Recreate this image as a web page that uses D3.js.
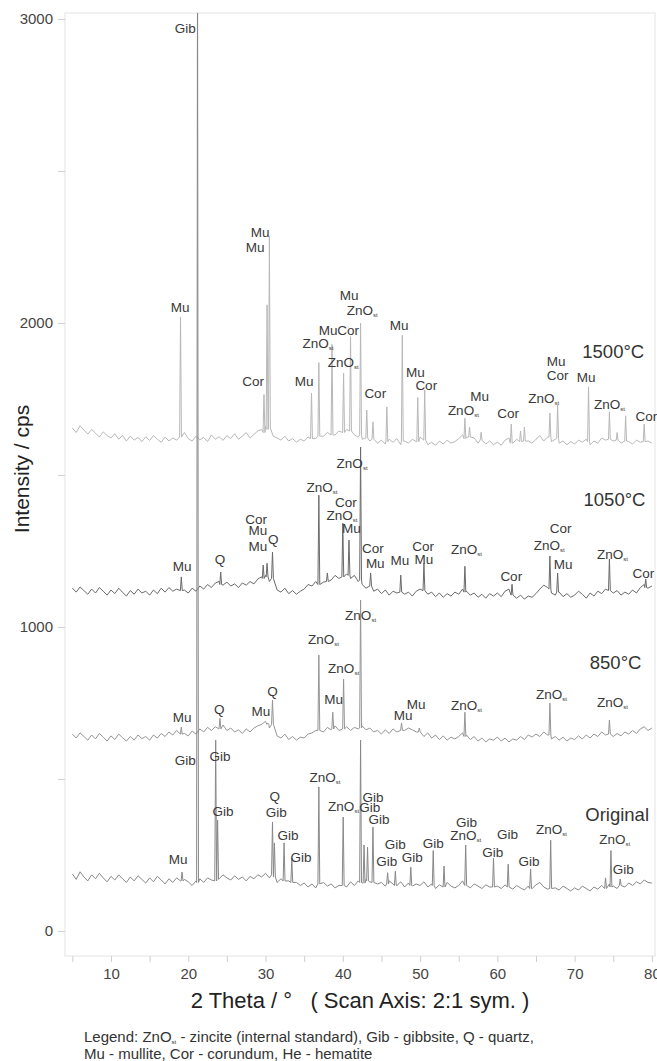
<!DOCTYPE html>
<html>
<head>
<meta charset="utf-8">
<script src="https://cdn.jsdelivr.net/npm/d3@7"></script>
<style>
  body { margin: 0; background: #fff; }
  text { font-family: "Liberation Sans", Arial, sans-serif; }
</style>
</head>
<body>
<div id="chart"></div>
<script>
// baseline samples start at 5 deg, every 0.5 deg up to 80 deg
const thetaStart = 5;
const thetaStep = 0.5;

const base1500 = [
  1655,1640,1662,1648,1635,1650,1638,1625,1642,1630,
  1622,1636,1618,1630,1612,1628,1615,1624,1610,1626,
  1614,1630,1618,1608,1625,1612,1622,1615,1628,1640,
  1620,1612,1628,1616,1624,1610,1632,1618,1626,1614,
  1630,1620,1636,1618,1628,1640,1622,1634,1645,1650,
  1660,1640,1628,1622,1615,1628,1612,1620,1608,1618,
  1612,1625,1630,1620,1635,1628,1640,1625,1632,1645,
  1638,1650,1640,1632,1625,1618,1630,1612,1622,1605,
  1615,1602,1618,1608,1620,1600,1612,1605,1618,1610,
  1625,1612,1600,1608,1598,1612,1602,1615,1605,1610,
  1620,1632,1625,1610,1622,1605,1615,1602,1612,1600,
  1608,1598,1615,1622,1605,1618,1610,1600,1612,1605,
  1618,1630,1612,1625,1610,1618,1605,1612,1600,1610,
  1602,1615,1608,1618,1600,1612,1605,1622,1615,1628,
  1612,1620,1605,1618,1610,1602,1615,1608,1620,1612,
  1605
];
const base1050 = [
  1128,1115,1132,1120,1108,1125,1112,1130,1118,1105,
  1122,1110,1128,1114,1102,1120,1108,1125,1112,1118,
  1105,1122,1110,1128,1115,1130,1118,1125,1140,1122,
  1112,1128,1118,1135,1125,1140,1130,1145,1150,1138,
  1148,1135,1142,1130,1145,1138,1150,1142,1158,1165,
  1170,1150,1130,1122,1115,1128,1110,1120,1108,1118,
  1125,1140,1135,1150,1160,1148,1165,1155,1170,1160,
  1168,1175,1160,1170,1150,1140,1128,1135,1118,1125,
  1110,1122,1105,1118,1112,1125,1108,1115,1102,1118,
  1125,1130,1108,1115,1100,1112,1098,1110,1102,1115,
  1108,1125,1118,1105,1112,1098,1108,1095,1110,1102,
  1112,1100,1118,1125,1108,1095,1105,1092,1102,1098,
  1110,1125,1138,1130,1112,1105,1115,1100,1110,1098,
  1105,1118,1108,1095,1112,1102,1118,1110,1125,1132,
  1112,1120,1105,1115,1108,1122,1112,1130,1140,1128,
  1135
];
const base850 = [
  648,635,652,640,628,645,632,650,638,625,
  642,630,648,636,625,640,628,645,633,640,
  628,645,635,650,640,655,645,660,668,650,
  642,658,648,665,655,670,660,672,665,678,
  660,668,655,662,650,665,655,668,675,680,
  690,668,650,642,635,648,630,640,628,638,
  635,648,652,660,668,655,670,662,675,660,
  668,672,660,670,665,675,662,668,655,660,
  648,662,650,665,655,670,660,668,662,655,
  648,640,652,635,645,630,642,628,638,632,
  640,652,645,630,640,625,635,622,632,628,
  638,625,635,622,632,628,640,630,645,638,
  648,640,655,645,632,640,628,638,625,635,
  630,642,632,645,635,648,640,655,645,652,
  640,650,642,655,648,660,650,665,672,660,
  668
];
const baseOriginal = [
  188,170,195,178,165,185,172,190,175,162,
  180,168,185,172,160,178,165,182,170,158,
  175,162,180,168,155,172,160,175,165,170,
  162,150,165,172,160,175,168,180,172,185,
  175,168,182,170,178,165,180,172,185,178,
  190,175,168,160,172,158,165,152,160,150,
  158,145,155,142,150,160,148,155,142,150,
  158,145,162,150,165,158,170,162,168,155,
  160,148,165,155,150,162,145,158,148,155,
  150,162,145,155,140,152,145,160,148,142,
  150,165,158,142,155,148,140,152,145,138,
  148,140,152,145,138,150,142,135,148,140,
  152,160,145,138,150,142,135,148,140,132,
  142,135,148,140,132,145,138,150,145,155,
  148,140,152,145,158,150,162,155,168,160,
  158
];

// peaks: [2theta, foot intensity, apex intensity]
const peaks1500 = [
  [19.0,1625,2020],[29.8,1640,1765],[30.2,1650,2060],[30.5,1655,2285],
  [35.95,1620,1770],[36.9,1628,1870],[38.6,1632,1930],[40.1,1640,1835],
  [41.0,1645,1955],[42.3,1632,2000],[43.1,1622,1714],[43.9,1618,1675],
  [45.7,1610,1724],[47.7,1612,1960],[49.7,1610,1755],[50.6,1615,1780],
  [55.8,1620,1687],[56.4,1625,1658],[57.9,1615,1641],[61.8,1605,1668],
  [63.0,1610,1645],[63.5,1612,1658],[66.8,1625,1704],[67.8,1620,1730],
  [71.8,1610,1790],[74.5,1618,1707],[75.5,1615,1640],[76.6,1612,1695],
  [79.0,1610,1668]
];
const peaks1050 = [
  [19.1,1120,1165],[24.2,1140,1181],[29.7,1160,1204],[30.2,1165,1210],
  [30.9,1160,1247],[36.9,1140,1434],[38.0,1150,1178],[40.0,1165,1342],
  [40.8,1170,1286],[42.3,1155,1592],[43.6,1135,1178],[47.5,1115,1171],
  [50.5,1120,1210],[55.8,1115,1200],[61.9,1105,1141],[66.8,1125,1234],
  [67.8,1115,1178],[74.5,1120,1224],[79.2,1130,1158]
];
const peaks850 = [
  [19.1,648,671],[24.1,665,700],[30.3,680,684],[30.9,680,760],
  [36.9,660,908],[38.7,665,720],[40.1,665,829],[42.3,668,1089],
  [47.6,660,684],[49.9,655,668],[55.8,640,720],[66.8,645,750],
  [74.5,648,694]
];
const peaksOriginal = [
  [19.2,165,194],[21.2,160,3300],[23.55,165,628],
  [23.8,170,365],[30.9,185,359],[31.15,178,290],[32.4,165,290],
  [33.4,160,240],[36.9,155,474],[40.05,150,375],[42.3,160,628],
  [42.75,158,283],[43.2,165,276],[43.9,160,342],[45.8,155,192],
  [46.8,150,197],[48.8,150,210],[51.7,150,265],[53.1,145,214],
  [55.9,150,283],[59.5,145,240],[61.4,145,220],[64.3,140,204],
  [66.9,140,299],[74.0,140,175],[74.7,145,265],[75.9,150,171]
];

// phase labels: [text, 2theta, intensity]  ("ZnOst" gets a subscript)
const labels1500 = [
  ['Mu',18.94,2053],['Cor',28.39,1809],['Mu',29.3,2299],['Mu',28.65,2250],
  ['Mu',35.0,1809],['ZnOst',36.8,1934],['Mu',38.1,1977],['Cor',40.7,1977],
  ['ZnOst',40.05,1872],['Mu',40.83,2092],['ZnOst',42.5,2043],['Cor',44.2,1770],
  ['Mu',47.3,1993],['Mu',49.4,1839],['Cor',50.8,1796],['ZnOst',55.6,1714],
  ['Mu',57.7,1760],['Cor',61.4,1704],['Mu',67.6,1875],['Cor',67.8,1829],
  ['ZnOst',66.0,1753],['Mu',71.5,1822],['ZnOst',74.5,1734],['Cor',79.3,1694]
];
const labels1050 = [
  ['Mu',19.2,1200],['Q',24.1,1224],['Cor',28.8,1355],['Mu',29.0,1319],
  ['Mu',29.0,1266],['Q',31.0,1289],['ZnOst',37.3,1460],['ZnOst',41.2,1539],
  ['Cor',40.4,1411],['ZnOst',39.9,1368],['Mu',41.1,1326],['Cor',43.9,1260],
  ['Mu',44.2,1210],['Mu',47.4,1220],['Cor',50.4,1266],['Mu',50.5,1224],
  ['ZnOst',56.0,1257],['Cor',61.8,1168],['Cor',68.2,1326],['ZnOst',66.7,1270],
  ['Mu',68.5,1207],['ZnOst',74.9,1240],['Cor',78.9,1178]
];
const labels850 = [
  ['Mu',19.2,704],['Q',24.0,730],['Mu',29.4,724],['Q',30.9,789],
  ['ZnOst',37.5,961],['Mu',38.8,763],['ZnOst',40.1,865],['ZnOst',42.3,1039],
  ['Mu',49.5,747],['Mu',47.8,711],['ZnOst',56.0,743],['ZnOst',67.0,780],
  ['ZnOst',74.9,753]
];
const labelsOriginal = [
  ['Gib',19.6,2970],['Mu',18.7,237],['Gib',19.6,562],['Gib',24.1,576],
  ['Gib',24.5,395],['Q',31.2,444],['Gib',31.4,391],['Gib',32.9,316],
  ['Gib',34.6,243],['ZnOst',37.7,507],['ZnOst',40.1,411],['Gib',43.9,441],
  ['Gib',43.5,408],['Gib',44.7,368],['Gib',46.8,286],['Gib',45.7,230],
  ['Gib',49.0,243],['Gib',51.7,289],['Gib',56.0,359],['ZnOst',55.9,316],
  ['Gib',61.3,319],['Gib',59.4,260],['Gib',64.1,230],['ZnOst',67.0,336],
  ['ZnOst',75.2,303],['Gib',76.3,204]
];

const sampleNames = ['1500°C', '1050°C', '850°C', 'Original'];
const sampleLabelPos = [[75.0,1908],[75.16,1418],[75.3,882],[75.5,382]];

const yTicks = [0, 1000, 2000, 3000];
const yMinorTicks = [500, 1500, 2500];
const xTicks = [10, 20, 30, 40, 50, 60, 70, 80];
const xMinorTicks = [5, 15, 25, 35, 45, 55, 65, 75];

const xTitle = '2 Theta / °   ( Scan Axis: 2:1 sym. )';
const yTitle = 'Intensity / cps';
const legendLines = [
  ['Legend: ZnO', 'st', ' - zincite (internal standard), Gib - gibbsite, Q - quartz,'],
  ['Mu - mullite, Cor - corundum, He - hematite', '', '']
];

const widthSvg = 657;
const heightSvg = 1061;
const margin = { top: 13, right: 2, bottom: 105, left: 65 };
const widthChart = widthSvg - margin.left - margin.right;
const heightChart = heightSvg - margin.top - margin.bottom;
const peakHalf = 0.12;

const x = d3.scaleLinear().domain([4.05, 80.4]).range([0, widthChart]);
const y = d3.scaleLinear().domain([-82, 3020]).range([heightChart, 0]);

const svg = d3.select('#chart').append('svg')
  .attr('width', widthSvg)
  .attr('height', heightSvg);

svg.append('defs').append('clipPath').attr('id', 'plotclip')
  .append('rect').attr('width', widthChart).attr('height', heightChart);

const chart = svg.append('g')
  .attr('transform', `translate(${margin.left}, ${margin.top})`);

chart.append('rect')
  .attr('width', widthChart).attr('height', heightChart)
  .attr('fill', 'none').attr('stroke', '#e4e4e4');

// axes
const styleAxis = (g) => {
  g.select('.domain').remove();
  g.selectAll('.tick line').attr('stroke', '#cfcfcf');
  g.selectAll('.tick text').attr('fill', '#444').attr('font-size', '15px')
    .attr('font-family', '"Liberation Sans", Arial, sans-serif');
};

chart.append('g')
  .call(d3.axisLeft(y).tickValues(yTicks).tickSize(7).tickPadding(5).tickFormat(d3.format('d')))
  .call(styleAxis);
chart.append('g')
  .call(d3.axisLeft(y).tickValues(yMinorTicks).tickSize(7).tickFormat(''))
  .call(styleAxis);
chart.append('g')
  .attr('transform', `translate(0, ${heightChart})`)
  .call(d3.axisBottom(x).tickValues(xTicks).tickSize(6).tickPadding(6))
  .call(styleAxis);
chart.append('g')
  .attr('transform', `translate(0, ${heightChart})`)
  .call(d3.axisBottom(x).tickValues(xMinorTicks).tickSize(6).tickFormat(''))
  .call(styleAxis);

// build a trace from baseline samples plus peak triangles
const buildTrace = (base, peaks) => {
  const pts = [];
  base.forEach((v, i) => {
    const t = thetaStart + i * thetaStep;
    const hit = peaks.some(p => Math.abs(p[0] - t) <= peakHalf);
    if (!hit) pts.push([t, v]);
  });
  peaks.forEach(p => {
    pts.push([p[0] - peakHalf, p[1]]);
    pts.push([p[0], p[2]]);
    pts.push([p[0] + peakHalf, p[1]]);
  });
  return pts.sort((a, b) => a[0] - b[0]);
};

const traces = [
  { base: base1500, peaks: peaks1500, labels: labels1500, color: '#b8b8b8' },
  { base: base1050, peaks: peaks1050, labels: labels1050, color: '#6a6a6a' },
  { base: base850, peaks: peaks850, labels: labels850, color: '#959595' },
  { base: baseOriginal, peaks: peaksOriginal, labels: labelsOriginal, color: '#888888' }
];

const line = d3.line().x(d => x(d[0])).y(d => y(d[1]));

const plot = chart.append('g').attr('clip-path', 'url(#plotclip)');

traces.forEach(tr => {
  plot.append('path')
    .datum(buildTrace(tr.base, tr.peaks))
    .attr('d', line)
    .attr('fill', 'none')
    .attr('stroke', tr.color)
    .attr('stroke-width', 1)
    .attr('stroke-linejoin', 'round');
});

// phase labels
const labelLayer = chart.append('g')
  .attr('font-size', '13.5px')
  .attr('fill', '#3a3a3a')
  .attr('text-anchor', 'middle');

traces.forEach(tr => {
  tr.labels.forEach(l => {
    const t = labelLayer.append('text')
      .attr('x', x(l[1]))
      .attr('y', y(l[2]))
      .attr('dy', '0.35em');
    if (l[0] === 'ZnOst') {
      t.append('tspan').text('ZnO');
      t.append('tspan').text('st').attr('font-size', '6px').attr('dy', '2');
    } else {
      t.text(l[0]);
    }
  });
});

// sample names
chart.append('g')
  .selectAll('text')
  .data(sampleNames)
  .join('text')
    .attr('x', (d, i) => x(sampleLabelPos[i][0]))
    .attr('y', (d, i) => y(sampleLabelPos[i][1]))
    .attr('dy', '0.35em')
    .attr('text-anchor', 'middle')
    .attr('font-size', '18.5px')
    .attr('fill', '#333')
    .text(d => d);

// axis titles
svg.append('text')
  .attr('x', 360)
  .attr('y', 1008)
  .attr('text-anchor', 'middle')
  .attr('font-size', '22px')
  .attr('fill', '#222')
  .style('white-space', 'pre')
  .text(xTitle);

svg.append('text')
  .attr('transform', `translate(29, ${margin.top + 456})rotate(-90)`)
  .attr('text-anchor', 'middle')
  .attr('font-size', '21px')
  .attr('fill', '#222')
  .text(yTitle);

// legend
legendLines.forEach((parts, i) => {
  const t = svg.append('text')
    .attr('x', 84)
    .attr('y', 1042 + i * 17)
    .attr('font-size', '15px')
    .attr('fill', '#333');
  t.append('tspan').text(parts[0]);
  if (parts[1]) {
    t.append('tspan').text(parts[1]).attr('font-size', '6px').attr('dy', '2');
    t.append('tspan').text(parts[2]).attr('dy', '-2');
  }
});
</script>
</body>
</html>
